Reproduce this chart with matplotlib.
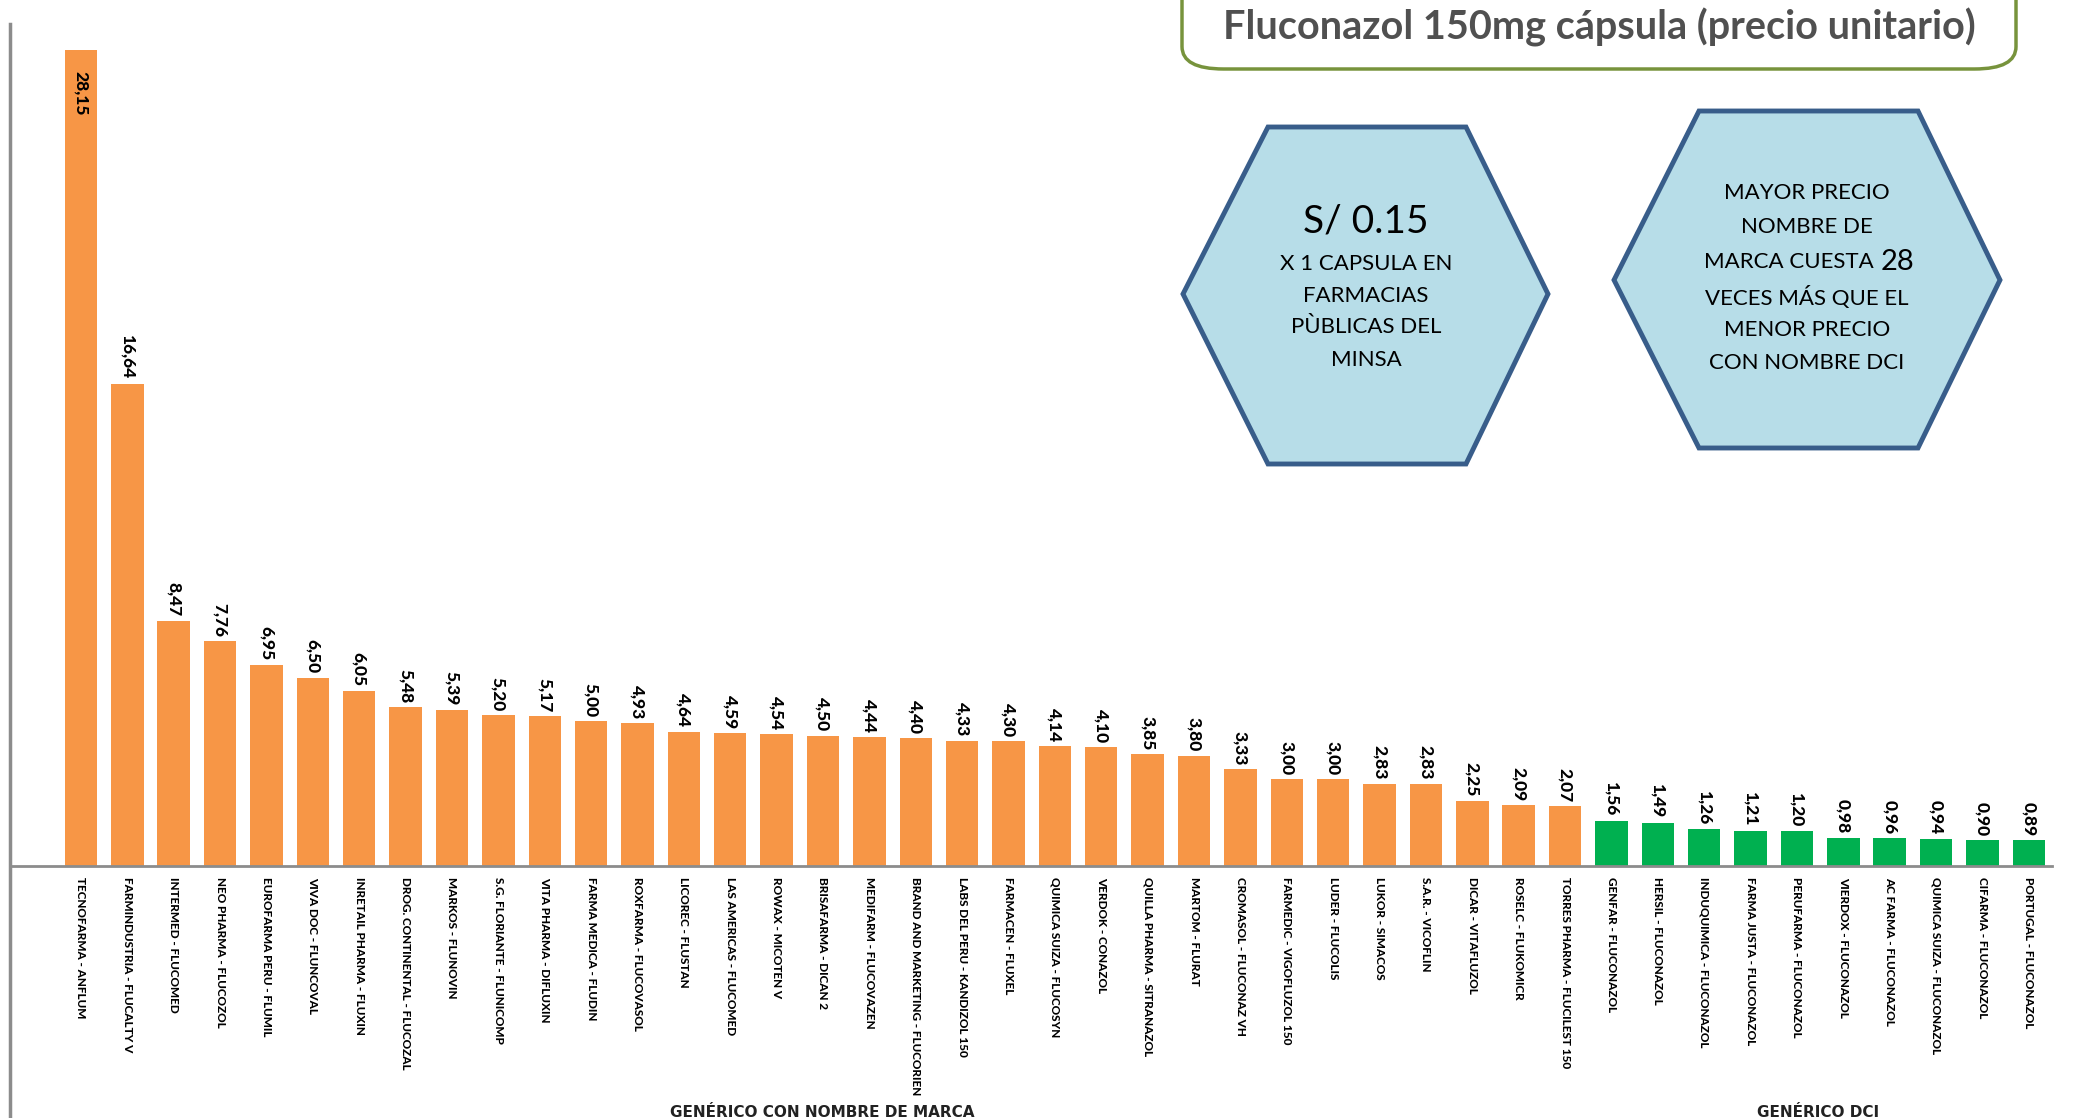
import matplotlib
matplotlib.use("Agg")
import matplotlib.pyplot as plt
from matplotlib.patches import Polygon, FancyBboxPatch
from matplotlib.lines import Line2D

# datos
marcas = ["TECNOFARMA - ANFLUM", "FARMINDUSTRIA - FLUCALTY V", "INTERMED - FLUCOMED",
          "NEO PHARMA - FLUCOZOL", "EUROFARMA PERU - FLUMIL", "VIVA DOC - FLUNCOVAL",
          "INRETAIL PHARMA - FLUXIN", "DROG. CONTINENTAL - FLUCOZAL", "MARKOS - FLUNOVIN",
          "S.G. FLORIANTE - FLUNICOMP", "VITA PHARMA - DIFLUXIN", "FARMA MEDICA - FLUDIN",
          "ROXFARMA - FLUCOVASOL", "LICOREC - FLUSTAN", "LAS AMERICAS - FLUCOMED",
          "ROWAX - MICOTEN V", "BRISAFARMA - DICAN 2", "MEDIFARM - FLUCOVAZEN",
          "BRAND AND MARKETING - FLUCORIEN", "LABS DEL PERU - KANDIZOL 150", "FARMACEN - FLUXEL",
          "QUIMICA SUIZA - FLUCOSYN", "VERDOK - CONAZOL", "QUILLA PHARMA - SITRANAZOL",
          "MARTOM - FLURAT", "CROMASOL - FLUCONAZ VH", "FARMEDIC - VIGOFLUZOL 150",
          "LUDER - FLUCOLIS", "LUKOR - SIMACOS", "S.A.R. - VICOFLIN", "DICAR - VITAFLUZOL",
          "ROSELC - FLUKOMICR", "TORRES PHARMA - FLUCILEST 150"]
precios_marca = [28.15, 16.64, 8.47, 7.76, 6.95, 6.50, 6.05, 5.48, 5.39, 5.20, 5.17, 5.00,
                 4.93, 4.64, 4.59, 4.54, 4.50, 4.44, 4.40, 4.33, 4.30, 4.14, 4.10, 3.85,
                 3.80, 3.33, 3.00, 3.00, 2.83, 2.83, 2.25, 2.09, 2.07]

dci = ["GENFAR - FLUCONAZOL", "HERSIL - FLUCONAZOL", "INDUQUIMICA - FLUCONAZOL",
       "FARMA JUSTA - FLUCONAZOL", "PERUFARMA - FLUCONAZOL", "VIERDOX - FLUCONAZOL",
       "AC FARMA - FLUCONAZOL", "QUIMICA SUIZA - FLUCONAZOL", "CIFARMA - FLUCONAZOL",
       "PORTUGAL - FLUCONAZOL"]
precios_dci = [1.56, 1.49, 1.26, 1.21, 1.20, 0.98, 0.96, 0.94, 0.90, 0.89]

W, H = 2078, 1118
naranja = "#F79646"
verde = "#00B050"
fuente = "Lato"


def fx(px):
    return px / W


def fy(py):
    return 1 - py / H


fig = plt.figure(figsize=(W / 100, H / 100), dpi=100)
ax = fig.add_axes([fx(10), fy(866), fx(2052) - fx(10), (866 - 11) / H])

etiquetas = marcas + dci
valores = precios_marca + precios_dci
colores = [naranja] * len(marcas) + [verde] * len(dci)
x = list(range(len(valores)))

barras = ax.bar(x, valores, width=0.7, color=colores)
ax.set_xlim(-1.53, 42.5)
ax.set_ylim(0, 29.5)

for i, (b, v) in enumerate(zip(barras, valores)):
    txt = "{:.2f}".format(v).replace(".", ",")
    cx = b.get_x() + b.get_width() / 2
    if i == 0:
        ax.annotate(txt, (cx, v), xytext=(0, -15), textcoords="offset points",
                    rotation=-90, ha="center", va="top", fontsize=12.5,
                    fontweight="black", family=fuente)
    else:
        ax.annotate(txt, (cx, v), xytext=(0, 3), textcoords="offset points",
                    rotation=-90, ha="center", va="bottom", fontsize=12.5,
                    fontweight="black", family=fuente)

ax.set_xticks(x)
ax.set_xticklabels(etiquetas, rotation=-90, ha="center", va="top", fontsize=8.5,
                   fontweight="black", family=fuente)
ax.tick_params(axis="x", length=0, pad=8)
ax.set_yticks([])
for s in ["top", "right", "left"]:
    ax.spines[s].set_visible(False)
ax.spines["bottom"].set_color("#8C8C8C")
ax.spines["bottom"].set_linewidth(2)

# eje vertical izquierdo
fig.add_artist(Line2D([fx(10), fx(10)], [fy(24), 0], color="#8C8C8C", lw=2.5))

# grupos
fig.text(fx(822), fy(1105), "GENÉRICO CON NOMBRE DE MARCA", ha="center", va="top",
         fontsize=11, fontweight="bold", color="#222222")
fig.text(fx(1818), fy(1105), "GENÉRICO DCI", ha="center", va="top",
         fontsize=11, fontweight="bold", color="#222222")

# titulo
caja = FancyBboxPatch((fx(1182), fy(69)), fx(2016) - fx(1182), 100 / H,
                      boxstyle="round,pad=0,rounding_size=0.02", transform=fig.transFigure,
                      facecolor="white", edgecolor="#77933C", lw=2.5)
fig.add_artist(caja)
fig.text(fx(1599), fy(27), "Fluconazol 150mg cápsula (precio unitario)", ha="center",
         va="center", fontsize=28.5, fontweight="bold", color="#505050", family=fuente)

# hexagonos
azul_f = "#B7DDE8"
azul_b = "#385D8A"
hex1 = [(1183, 294), (1268, 127), (1466, 127), (1548, 294), (1466, 464), (1268, 464)]
hex2 = [(1614, 280), (1699, 111), (1918, 111), (2000, 280), (1918, 448), (1699, 448)]
for hx in (hex1, hex2):
    fig.add_artist(Polygon([(fx(a), fy(b)) for a, b in hx], closed=True,
                           transform=fig.transFigure, facecolor=azul_f,
                           edgecolor=azul_b, lw=3.5))

fig.text(fx(1366), fy(221), "S/ 0.15", ha="center", va="center", fontsize=28, family=fuente)
for yy, t in zip([264, 296, 327, 360], ["X 1 CAPSULA EN", "FARMACIAS", "PÙBLICAS DEL", "MINSA"]):
    fig.text(fx(1366), fy(yy), t, ha="center", va="center", fontsize=16, family=fuente)

for yy, t in zip([193, 227, 297, 330, 363],
                 ["MAYOR PRECIO", "NOMBRE DE", "VECES MÁS QUE EL", "MENOR PRECIO", "CON NOMBRE DCI"]):
    fig.text(fx(1807), fy(yy), t, ha="center", va="center", fontsize=16, family=fuente)
fig.text(fx(1874), fy(262), "MARCA CUESTA", ha="right", va="center", fontsize=16, family=fuente)
fig.text(fx(1881), fy(262), "28", ha="left", va="center", fontsize=21, family=fuente)

fig.savefig("out.png", dpi=100)
